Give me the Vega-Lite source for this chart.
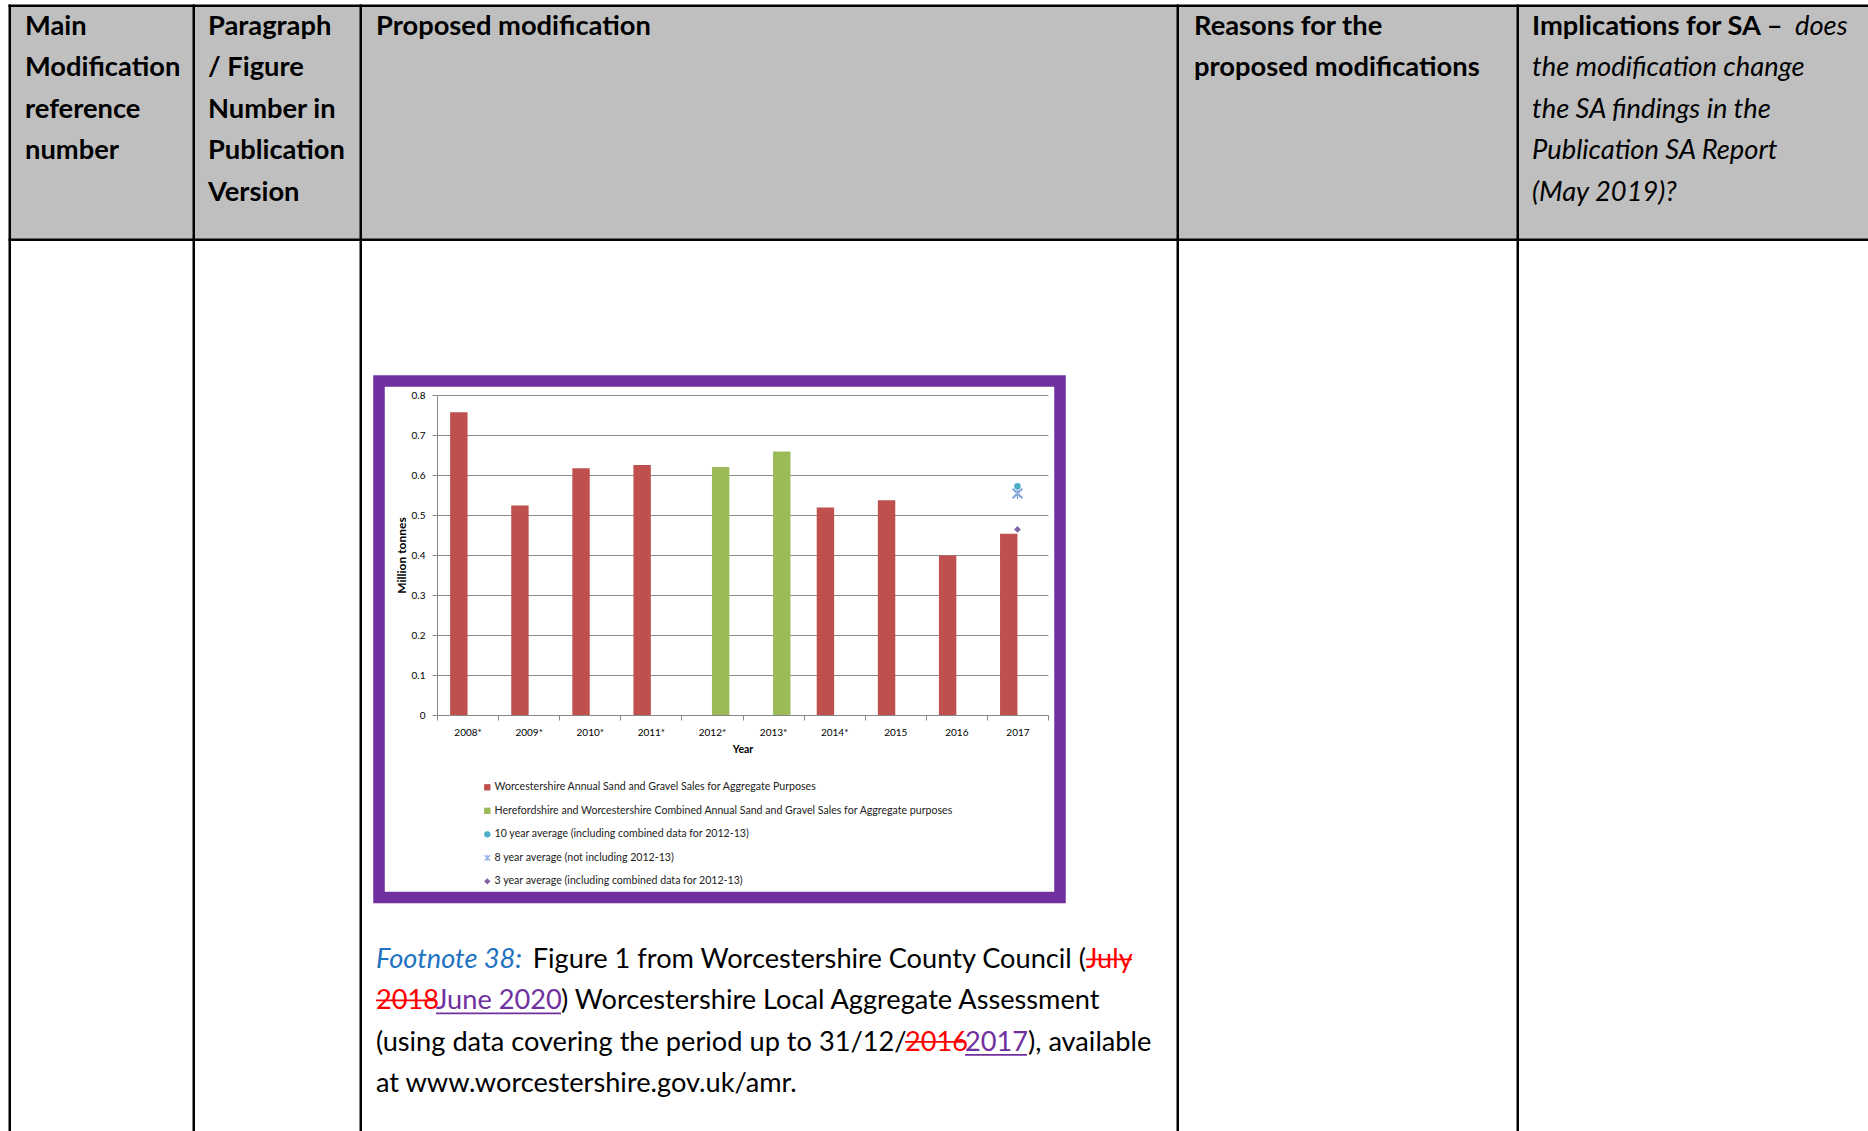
{
  "$schema": "https://vega.github.io/schema/vega-lite/v6.json",
  "width": 611,
  "height": 320,
  "autosize": {"type": "none"},
  "padding": {"left": 437, "top": 395, "right": 820, "bottom": 416},
  "background": "white",
  "config": {"view": {"stroke": null}, "font": "Lato"},
  "datasets": {
    "sales": [
      {"year": "2008*", "value": 0.757, "series": "Worcestershire Annual Sand and Gravel Sales for Aggregate Purposes"},
      {"year": "2009*", "value": 0.524, "series": "Worcestershire Annual Sand and Gravel Sales for Aggregate Purposes"},
      {"year": "2010*", "value": 0.617, "series": "Worcestershire Annual Sand and Gravel Sales for Aggregate Purposes"},
      {"year": "2011*", "value": 0.625, "series": "Worcestershire Annual Sand and Gravel Sales for Aggregate Purposes"},
      {"year": "2012*", "value": 0.620, "series": "Herefordshire and Worcestershire Combined Annual Sand and Gravel Sales for Aggregate purposes"},
      {"year": "2013*", "value": 0.659, "series": "Herefordshire and Worcestershire Combined Annual Sand and Gravel Sales for Aggregate purposes"},
      {"year": "2014*", "value": 0.519, "series": "Worcestershire Annual Sand and Gravel Sales for Aggregate Purposes"},
      {"year": "2015", "value": 0.537, "series": "Worcestershire Annual Sand and Gravel Sales for Aggregate Purposes"},
      {"year": "2016", "value": 0.399, "series": "Worcestershire Annual Sand and Gravel Sales for Aggregate Purposes"},
      {"year": "2017", "value": 0.453, "series": "Worcestershire Annual Sand and Gravel Sales for Aggregate Purposes"}
    ],
    "averages": [
      {"year": "2017", "value": 0.554, "series": "8 year average (not including 2012-13)"},
      {"year": "2017", "value": 0.572, "series": "10 year average (including combined data for 2012-13)"},
      {"year": "2017", "value": 0.464, "series": "3 year average (including combined data for 2012-13)"}
    ]
  },
  "layer": [
    {"data": {"values": [{}]}, "mark": {"type": "rect", "x": -427, "x2": 1431, "y": -389, "y2": -155, "fill": "#bfbfbf"}, "encoding": {}},
    {"data": {"values": [{}]}, "mark": {"type": "rect", "x": -428.5, "x2": 1431, "y": -390.5, "y2": -388, "fill": "#000"}, "encoding": {}},
    {"data": {"values": [{}]}, "mark": {"type": "rect", "x": -428.5, "x2": 1431, "y": -156.5, "y2": -154, "fill": "#000"}, "encoding": {}},
    {"data": {"values": [{}]}, "mark": {"type": "rect", "x": -428.5, "x2": -426, "y": -390.5, "y2": 736, "fill": "#000"}, "encoding": {}},
    {"data": {"values": [{}]}, "mark": {"type": "rect", "x": -244.5, "x2": -242, "y": -390.5, "y2": 736, "fill": "#000"}, "encoding": {}},
    {"data": {"values": [{}]}, "mark": {"type": "rect", "x": -77.5, "x2": -75, "y": -390.5, "y2": 736, "fill": "#000"}, "encoding": {}},
    {"data": {"values": [{}]}, "mark": {"type": "rect", "x": 739.5, "x2": 742, "y": -390.5, "y2": 736, "fill": "#000"}, "encoding": {}},
    {"data": {"values": [{}]}, "mark": {"type": "rect", "x": 1079.5, "x2": 1082, "y": -390.5, "y2": 736, "fill": "#000"}, "encoding": {}},
    {"data": {"values": [{}]}, "mark": {"type": "text", "x": -412, "y": -360, "align": "left", "baseline": "alphabetic", "fontSize": 27.3, "fontWeight": "bold", "lineHeight": 41.4, "color": "#000", "text": ["Main", "Modification", "reference", "number"]}, "encoding": {}},
    {"data": {"values": [{}]}, "mark": {"type": "text", "x": -229, "y": -360, "align": "left", "baseline": "alphabetic", "fontSize": 27.3, "fontWeight": "bold", "lineHeight": 41.4, "color": "#000", "text": ["Paragraph", "/ Figure", "Number in", "Publication", "Version"]}, "encoding": {}},
    {"data": {"values": [{}]}, "mark": {"type": "text", "x": -61, "y": -360, "align": "left", "baseline": "alphabetic", "fontSize": 27.3, "fontWeight": "bold", "color": "#000", "text": "Proposed modification"}, "encoding": {}},
    {"data": {"values": [{}]}, "mark": {"type": "text", "x": 757, "y": -360, "align": "left", "baseline": "alphabetic", "fontSize": 27.3, "fontWeight": "bold", "lineHeight": 41.4, "color": "#000", "text": ["Reasons for the", "proposed modifications"]}, "encoding": {}},
    {"data": {"values": [{}]}, "mark": {"type": "text", "x": 1095, "y": -360, "align": "left", "baseline": "alphabetic", "fontSize": 27.3, "fontWeight": "bold", "color": "#000", "text": "Implications for SA –"}, "encoding": {}},
    {"data": {"values": [{}]}, "mark": {"type": "text", "x": 1358, "y": -360, "align": "left", "baseline": "alphabetic", "fontSize": 27.3, "fontStyle": "italic", "color": "#000", "text": "does"}, "encoding": {}},
    {"data": {"values": [{}]}, "mark": {"type": "text", "x": 1095, "y": -318.6, "align": "left", "baseline": "alphabetic", "fontSize": 27.3, "fontStyle": "italic", "lineHeight": 41.4, "color": "#000", "text": ["the modification change", "the SA findings in the", "Publication SA Report", "(May 2019)?"]}, "encoding": {}},
    {"data": {"values": [{}]}, "mark": {"type": "rect", "x": -58, "x2": 623, "y": -14, "y2": 502.5, "fill": null, "stroke": "#7030a0", "strokeWidth": 11.5}, "encoding": {}},
    {
      "data": {"name": "sales"},
      "mark": {"type": "bar"},
      "encoding": {
        "x": {
          "field": "year", "type": "nominal", "sort": null,
          "scale": {"domain": ["2008*", "2009*", "2010*", "2011*", "2012*", "2013*", "2014*", "2015", "2016", "2017"], "paddingInner": 0, "paddingOuter": 0},
          "axis": {"title": "Year", "tickBand": "extent", "labelAngle": 0, "labelFontSize": 10, "labelColor": "#000", "labelPadding": 7, "tickSize": 5, "tickColor": "#888", "domainColor": "#888", "titleFontSize": 10.5, "titleFontWeight": "bold", "titleColor": "#000", "titlePadding": 7, "grid": false}
        },
        "xOffset": {
          "field": "series", "type": "nominal",
          "scale": {"domain": ["Worcestershire Annual Sand and Gravel Sales for Aggregate Purposes", "Herefordshire and Worcestershire Combined Annual Sand and Gravel Sales for Aggregate purposes"], "paddingInner": 0, "paddingOuter": 0.754}
        },
        "y": {
          "field": "value", "type": "quantitative",
          "scale": {"domain": [0, 0.8], "nice": false},
          "axis": {"title": "Million tonnes", "values": [0, 0.1, 0.2, 0.3, 0.4, 0.5, 0.6, 0.7, 0.8], "format": "~g", "labelOverlap": false, "labelFontSize": 10, "labelColor": "#000", "labelPadding": 7, "tickSize": 5, "tickColor": "#888", "domainColor": "#888", "grid": true, "gridColor": "#8c8c8c", "gridWidth": 1, "titleFontSize": 12, "titleFontWeight": "bold", "titleColor": "#000", "titlePadding": 3}
        },
        "color": {
          "field": "series", "type": "nominal",
          "scale": {
            "domain": ["Worcestershire Annual Sand and Gravel Sales for Aggregate Purposes", "Herefordshire and Worcestershire Combined Annual Sand and Gravel Sales for Aggregate purposes", "10 year average (including combined data for 2012-13)", "8 year average (not including 2012-13)", "3 year average (including combined data for 2012-13)"],
            "range": ["#c0504d", "#9bbb59", "#4bacc6", "#7a9fdb", "#8064a2"]
          },
          "legend": {"orient": "none", "legendX": 45, "legendY": 387, "title": null, "labelFontSize": 10.6, "labelLimit": 800, "labelColor": "#222", "symbolSize": 40, "rowPadding": 12.5, "labelOffset": 2, "symbolStrokeWidth": 0}
        }
      }
    },
    {
      "data": {"name": "averages"},
      "transform": [{"filter": "datum.series === '8 year average (not including 2012-13)'"}],
      "mark": {"type": "point", "filled": true, "size": 121, "opacity": 1},
      "encoding": {
        "x": {"field": "year", "type": "nominal"},
        "y": {"field": "value", "type": "quantitative", "axis": {"title": "Million tonnes", "values": [0, 0.1, 0.2, 0.3, 0.4, 0.5, 0.6, 0.7, 0.8], "format": "~g", "labelOverlap": false, "grid": true}},
        "color": {"field": "series", "type": "nominal"},
        "shape": {
          "field": "series", "type": "nominal",
          "scale": {
            "domain": ["Worcestershire Annual Sand and Gravel Sales for Aggregate Purposes", "Herefordshire and Worcestershire Combined Annual Sand and Gravel Sales for Aggregate purposes", "10 year average (including combined data for 2012-13)", "8 year average (not including 2012-13)", "3 year average (including combined data for 2012-13)"],
            "range": ["square", "square", "circle", "M-1,-0.75L0.75,1L1,0.75L-0.75,-1ZM-1,0.75L0.75,-1L1,-0.75L-0.75,1ZM-0.12,-1L0.12,-1L0.12,1L-0.12,1Z", "diamond"]
          },
          "legend": {"orient": "none", "legendX": 45, "legendY": 387, "title": null, "labelFontSize": 10.6, "labelLimit": 800, "labelColor": "#222", "symbolSize": 40, "rowPadding": 12.5, "labelOffset": 2, "symbolStrokeWidth": 0}
        }
      }
    },
    {
      "data": {"name": "averages"},
      "transform": [{"filter": "datum.series === '10 year average (including combined data for 2012-13)'"}],
      "mark": {"type": "point", "filled": true, "size": 42, "opacity": 1},
      "encoding": {
        "x": {"field": "year", "type": "nominal"},
        "y": {"field": "value", "type": "quantitative", "axis": {"title": "Million tonnes", "values": [0, 0.1, 0.2, 0.3, 0.4, 0.5, 0.6, 0.7, 0.8], "format": "~g", "labelOverlap": false, "grid": true}},
        "color": {"field": "series", "type": "nominal"},
        "shape": {"field": "series", "type": "nominal"}
      }
    },
    {
      "data": {"name": "averages"},
      "transform": [{"filter": "datum.series === '3 year average (including combined data for 2012-13)'"}],
      "mark": {"type": "point", "filled": true, "size": 45, "opacity": 1},
      "encoding": {
        "x": {"field": "year", "type": "nominal"},
        "y": {"field": "value", "type": "quantitative", "axis": {"title": "Million tonnes", "values": [0, 0.1, 0.2, 0.3, 0.4, 0.5, 0.6, 0.7, 0.8], "format": "~g", "labelOverlap": false, "grid": true}},
        "color": {"field": "series", "type": "nominal"},
        "shape": {"field": "series", "type": "nominal"}
      }
    },
    {"data": {"values": [{}]}, "mark": {"type": "text", "x": -61, "y": 572.5, "align": "left", "baseline": "alphabetic", "fontSize": 27.2, "fontStyle": "italic", "color": "#1f73c2", "text": "Footnote 38:"}, "encoding": {}},
    {"data": {"values": [{}]}, "mark": {"type": "text", "x": 649, "y": 572.5, "align": "right", "baseline": "alphabetic", "fontSize": 27.2, "color": "#000", "text": "Figure 1 from Worcestershire County Council ("}, "encoding": {}},
    {"data": {"values": [{}]}, "mark": {"type": "text", "x": 649, "y": 572.5, "align": "left", "baseline": "alphabetic", "fontSize": 27.2, "color": "#ff0000", "text": "July"}, "encoding": {}},
    {"data": {"values": [{}]}, "mark": {"type": "rect", "x": 649, "x2": 695, "y": 563.5, "y2": 565.2, "fill": "#ff0000"}, "encoding": {}},
    {"data": {"values": [{}]}, "mark": {"type": "text", "x": -61, "y": 614, "align": "left", "baseline": "alphabetic", "fontSize": 27.2, "color": "#ff0000", "text": "2018"}, "encoding": {}},
    {"data": {"values": [{}]}, "mark": {"type": "rect", "x": -61, "x2": -1, "y": 604.5, "y2": 606.2, "fill": "#ff0000"}, "encoding": {}},
    {"data": {"values": [{}]}, "mark": {"type": "text", "x": -1, "y": 614, "align": "left", "baseline": "alphabetic", "fontSize": 27.2, "color": "#7030a0", "text": "June 2020"}, "encoding": {}},
    {"data": {"values": [{}]}, "mark": {"type": "rect", "x": -1, "x2": 124, "y": 617.5, "y2": 619.2, "fill": "#7030a0"}, "encoding": {}},
    {"data": {"values": [{}]}, "mark": {"type": "text", "x": 124, "y": 614, "align": "left", "baseline": "alphabetic", "fontSize": 27.2, "color": "#000", "text": ") Worcestershire Local Aggregate Assessment"}, "encoding": {}},
    {"data": {"values": [{}]}, "mark": {"type": "text", "x": -61, "y": 655.5, "align": "left", "baseline": "alphabetic", "fontSize": 27.2, "color": "#000", "text": "(using data covering the period up to 31/12/"}, "encoding": {}},
    {"data": {"values": [{}]}, "mark": {"type": "text", "x": 468, "y": 655.5, "align": "left", "baseline": "alphabetic", "fontSize": 27.2, "color": "#ff0000", "text": "2016"}, "encoding": {}},
    {"data": {"values": [{}]}, "mark": {"type": "rect", "x": 468, "x2": 528, "y": 646, "y2": 647.7, "fill": "#ff0000"}, "encoding": {}},
    {"data": {"values": [{}]}, "mark": {"type": "text", "x": 528, "y": 655.5, "align": "left", "baseline": "alphabetic", "fontSize": 27.2, "color": "#7030a0", "text": "2017"}, "encoding": {}},
    {"data": {"values": [{}]}, "mark": {"type": "rect", "x": 528, "x2": 590, "y": 659, "y2": 660.7, "fill": "#7030a0"}, "encoding": {}},
    {"data": {"values": [{}]}, "mark": {"type": "text", "x": 591, "y": 655.5, "align": "left", "baseline": "alphabetic", "fontSize": 27.2, "color": "#000", "text": "), available"}, "encoding": {}},
    {"data": {"values": [{}]}, "mark": {"type": "text", "x": -61, "y": 697, "align": "left", "baseline": "alphabetic", "fontSize": 27.2, "color": "#000", "text": "at www.worcestershire.gov.uk/amr."}, "encoding": {}}
  ]
}
